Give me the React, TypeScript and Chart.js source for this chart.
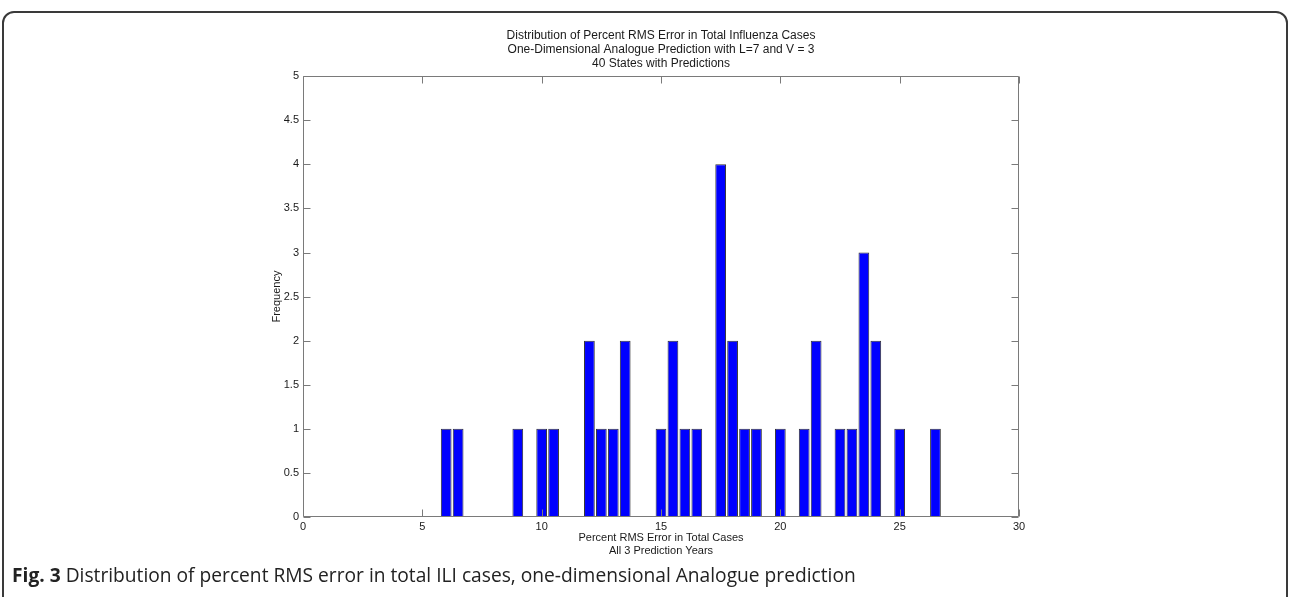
import React, { useEffect, useRef } from "react";
import { Chart, registerables } from "chart.js";

Chart.register(...registerables);

// ---- data ----
const binCenters = [6, 6.5, 9, 10, 10.5, 12, 12.5, 13, 13.5, 15, 15.5, 16, 16.5, 17.5, 18, 18.5, 19, 20, 21, 21.5, 22.5, 23, 23.5, 24, 25, 26.5];
const frequencies = [1, 1, 1, 1, 1, 2, 1, 1, 2, 1, 2, 1, 1, 4, 2, 1, 1, 1, 1, 2, 1, 1, 3, 2, 1, 1];
const xTickValues = [0, 5, 10, 15, 20, 25, 30];
const yTickValues = [0, 0.5, 1, 1.5, 2, 2.5, 3, 3.5, 4, 4.5, 5];
const titleLines = [
  "Distribution of Percent RMS Error in Total Influenza Cases",
  "One-Dimensional Analogue Prediction with L=7 and V = 3",
  "40 States with Predictions",
];
const xTitleLines = ["Percent RMS Error in Total Cases", "All 3 Prediction Years"];
const yTitle = "Frequency";
const captionLabel = "Fig. 3";
const captionText = " Distribution of percent RMS error in total ILI cases, one-dimensional Analogue prediction";

const FONT = "'Liberation Sans', Arial, Helvetica, sans-serif";
const TEXT = "#1a1a1a";
const AXIS = "#7a7a7a";

const boxPlugin = {
  id: "matlabBox",
  afterDatasetsDraw(chart: any) {
    const { ctx, chartArea: a, scales } = chart;
    const L = Math.round(a.left) + 0.5;
    const R = Math.round(a.right) - 0.5;
    const T = Math.round(a.top) + 0.5;
    const B = Math.round(a.bottom) - 0.5;
    const tl = 7;
    ctx.save();
    ctx.strokeStyle = AXIS;
    ctx.lineWidth = 1;
    ctx.beginPath();
    ctx.moveTo(L, T);
    ctx.lineTo(R, T);
    ctx.lineTo(R, B);
    ctx.lineTo(L, B);
    ctx.closePath();
    xTickValues.forEach((v) => {
      const x = Math.round(scales.x.getPixelForValue(v)) + 0.5;
      ctx.moveTo(x, B);
      ctx.lineTo(x, B - tl);
      ctx.moveTo(x, T);
      ctx.lineTo(x, T + tl);
    });
    yTickValues.forEach((v) => {
      const y = Math.round(scales.y.getPixelForValue(v)) + 0.5;
      ctx.moveTo(L, y);
      ctx.lineTo(L + tl, y);
      ctx.moveTo(R, y);
      ctx.lineTo(R - tl, y);
    });
    ctx.stroke();
    ctx.restore();
  },
};

export default function App() {
  const canvasRef = useRef<HTMLCanvasElement | null>(null);

  useEffect(() => {
    if (!canvasRef.current) return;
    const chart = new Chart(canvasRef.current, {
      type: "bar",
      data: {
        datasets: [
          {
            data: binCenters.map((x, i) => ({ x, y: frequencies[i] })),
            backgroundColor: "#0000ff",
            borderColor: "#333333",
            borderWidth: 1,
            barPercentage: 0.9,
            categoryPercentage: 1.0,
          },
        ],
      },
      options: {
        responsive: false,
        maintainAspectRatio: false,
        animation: false,
        layout: { padding: { left: 243, right: 271, top: 28, bottom: 39 } },
        plugins: {
          legend: { display: false },
          tooltip: { enabled: false },
          title: {
            display: true,
            fullSize: false,
            text: titleLines,
            color: TEXT,
            font: { family: FONT, size: 12, weight: "normal", lineHeight: 1.2 },
            padding: { top: 0, bottom: 5 },
          },
        },
        scales: {
          x: {
            type: "linear",
            min: 0,
            max: 30,
            offset: false,
            grid: { display: false, drawTicks: false },
            border: { display: false },
            afterBuildTicks: (s: any) => {
              s.ticks = xTickValues.map((v) => ({ value: v }));
            },
            ticks: {
              color: TEXT,
              font: { family: FONT, size: 11 },
              padding: 3,
              maxRotation: 0,
              autoSkip: false,
              callback: (v: any) => String(Number(v)),
            },
            title: {
              display: true,
              text: xTitleLines,
              color: TEXT,
              font: { family: FONT, size: 11, lineHeight: 1.2 },
              padding: { top: 0, bottom: 0 },
            },
            afterFit: (s: any) => {
              s.height = 41;
            },
          },
          y: {
            min: 0,
            max: 5,
            grid: { display: false, drawTicks: false },
            border: { display: false },
            afterBuildTicks: (s: any) => {
              s.ticks = yTickValues.map((v) => ({ value: v }));
            },
            ticks: {
              color: TEXT,
              font: { family: FONT, size: 11 },
              padding: 4,
              autoSkip: false,
              callback: (v: any) => String(Number(v)),
            },
            title: {
              display: true,
              text: yTitle,
              color: TEXT,
              font: { family: FONT, size: 11, lineHeight: 1.2 },
              padding: { top: 27, bottom: 0 },
            },
            afterFit: (s: any) => {
              s.width = 60;
            },
          },
        },
      },
      plugins: [boxPlugin],
    });
    return () => chart.destroy();
  }, []);

  return (
    <div
      style={{
        position: "absolute",
        left: 0,
        top: 0,
        width: 1290,
        height: 597,
        overflow: "hidden",
        background: "#ffffff",
      }}
    >
      <div
        style={{
          position: "absolute",
          left: 2,
          top: 11,
          width: 1282,
          height: 700,
          border: "2px solid #3a3a3a",
          borderRadius: 12,
        }}
      />
      <canvas
        ref={canvasRef}
        width={1290}
        height={597}
        style={{ position: "absolute", left: 0, top: 0, width: 1290, height: 597 }}
      />
      <div
        style={{
          position: "absolute",
          left: 12,
          top: 563,
          fontFamily: "'Open Sans', 'Noto Sans', sans-serif",
          fontSize: 19.2,
          lineHeight: "24px",
          color: "#222",
          whiteSpace: "nowrap",
        }}
      >
        <b>{captionLabel}</b>
        {captionText}
      </div>
    </div>
  );
}
